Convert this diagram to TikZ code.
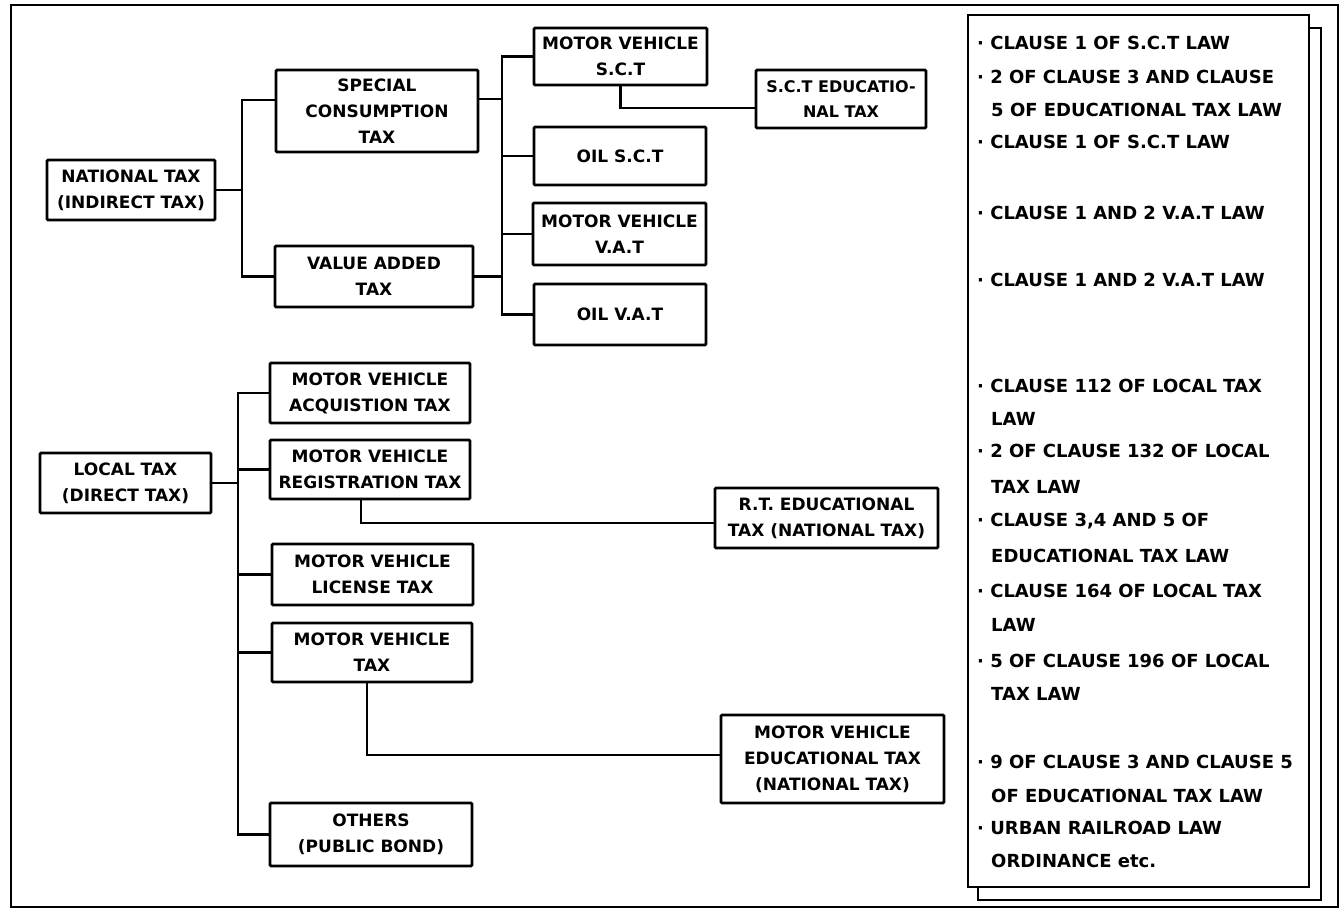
\documentclass[tikz,border=0pt]{standalone}
\usepackage{fontspec}
\newfontfamily\dvs{DejaVu Sans}
\begin{document}
\begin{tikzpicture}[x=1pt,y=-1pt,
  box/.style={draw, line width=2.8pt, rounded corners=1.2pt, align=center, inner sep=1pt,
    font=\dvs\bfseries\fontsize{17}{26}\selectfont},
  conn/.style={line width=2.6pt},
  frame/.style={line width=2.8pt},
  cl/.style={anchor=west, inner sep=0pt, font=\dvs\bfseries\fontsize{18}{22}\selectfont}]
\useasboundingbox (0,0) rectangle (1344,911);
\draw[frame] (11,5) rectangle (1338,907);

% ---- national tax branch
\node[box, minimum width=168pt, minimum height=60pt] (nat) at (131,190) {NATIONAL TAX\\(INDIRECT TAX)};
\node[box, minimum width=202pt, minimum height=82pt] (sct) at (377,111) {SPECIAL\\CONSUMPTION\\TAX};
\node[box, minimum width=198pt, minimum height=61pt] (vat) at (374,276.5) {VALUE ADDED\\TAX};
\node[box, minimum width=173pt, minimum height=57pt] (mvsct) at (620.5,56.5) {MOTOR VEHICLE\\S.C.T};
\node[box, minimum width=170pt, minimum height=58pt, font=\dvs\bfseries\fontsize{16}{25}\selectfont] (scted) at (841,99) {S.C.T EDUCATIO-\\NAL TAX};
\node[box, minimum width=172pt, minimum height=58pt] (oilsct) at (620,156) {OIL S.C.T};
\node[box, minimum width=173pt, minimum height=62pt] (mvvat) at (619.5,234) {MOTOR VEHICLE\\V.A.T};
\node[box, minimum width=172pt, minimum height=61pt] (oilvat) at (620,314.5) {OIL V.A.T};

\coordinate (j1) at (242,190);
\coordinate (j2) at (502,99);
\draw[conn] (nat.east) -- (j1);
\draw[conn] ([yshift=11pt]sct.west) -| (j1) |- (vat.west);
\draw[conn] ([yshift=12pt]sct.east) -- (j2);
\draw[conn] (vat.east) -- (vat.east -| j2);
\draw[conn] (mvsct.west) -| (j2) |- (oilvat.west);
\draw[conn] (oilsct.west) -- (oilsct.west -| j2);
\draw[conn] (mvvat.west) -- (mvvat.west -| j2);
\draw[conn] (mvsct.south) |- ([yshift=-9pt]scted.west);

% ---- local tax branch
\node[box, minimum width=171pt, minimum height=60pt] (local) at (125.5,483) {LOCAL TAX\\(DIRECT TAX)};
\node[box, minimum width=200pt, minimum height=60pt] (acq) at (370,393) {MOTOR VEHICLE\\ACQUISTION TAX};
\node[box, minimum width=200pt, minimum height=59pt] (reg) at (370,469.5) {MOTOR VEHICLE\\REGISTRATION TAX};
\node[box, minimum width=223pt, minimum height=60pt] (rted) at (826.5,518) {R.T. EDUCATIONAL\\TAX (NATIONAL TAX)};
\node[box, minimum width=201pt, minimum height=61pt] (lic) at (372.5,574.5) {MOTOR VEHICLE\\LICENSE TAX};
\node[box, minimum width=200pt, minimum height=59pt] (mvt) at (372,652.5) {MOTOR VEHICLE\\TAX};
\node[box, minimum width=223pt, minimum height=88pt] (mved) at (832.5,759) {MOTOR VEHICLE\\EDUCATIONAL TAX\\(NATIONAL TAX)};
\node[box, minimum width=202pt, minimum height=63pt] (oth) at (371,834.5) {OTHERS\\(PUBLIC BOND)};

\coordinate (j3) at (238,483);
\draw[conn] (local.east) -- (j3);
\draw[conn] (acq.west) -| (j3) |- (oth.west);
\draw[conn] (reg.west) -- (reg.west -| j3);
\draw[conn] (lic.west) -- (lic.west -| j3);
\draw[conn] (mvt.west) -- (mvt.west -| j3);
\draw[conn] ([xshift=-9pt]reg.south) |- ([yshift=-5pt]rted.west);
\draw[conn] ([xshift=-5pt]mvt.south) |- ([yshift=4pt]mved.west);

% ---- law panel
\draw[conn, fill=white] (978,28) rectangle (1321,900);
\draw[conn, fill=white] (968,15) rectangle (1309,887);
\node[cl] (l1) at (977,43) {· CLAUSE 1 OF S.C.T LAW};
\node[cl] (l2) at (977,77) {· 2 OF CLAUSE 3 AND CLAUSE};
\node[cl] (l3) at (991,110) {5 OF EDUCATIONAL TAX LAW};
\node[cl] (l4) at (977,142) {· CLAUSE 1 OF S.C.T LAW};
\node[cl] (l5) at (977,213) {· CLAUSE 1 AND 2 V.A.T LAW};
\node[cl] (l6) at (977,280) {· CLAUSE 1 AND 2 V.A.T LAW};
\node[cl] (l7) at (977,386) {· CLAUSE 112 OF LOCAL TAX};
\node[cl] (l8) at (991,419) {LAW};
\node[cl] (l9) at (977,451) {· 2 OF CLAUSE 132 OF LOCAL};
\node[cl] (l10) at (991,487) {TAX LAW};
\node[cl] (l11) at (977,521) {· CLAUSE 3,4 AND 5 OF};
\node[cl] (l12) at (991,556) {EDUCATIONAL TAX LAW};
\node[cl] (l13) at (977,591) {· CLAUSE 164 OF LOCAL TAX};
\node[cl] (l14) at (991,625) {LAW};
\node[cl] (l15) at (977,661) {· 5 OF CLAUSE 196 OF LOCAL};
\node[cl] (l16) at (991,694) {TAX LAW};
\node[cl] (l17) at (977,762) {· 9 OF CLAUSE 3 AND CLAUSE 5};
\node[cl] (l18) at (991,796) {OF EDUCATIONAL TAX LAW};
\node[cl] (l19) at (977,828) {· URBAN RAILROAD LAW};
\node[cl] (l20) at (991,861) {ORDINANCE etc.};
\end{tikzpicture}
\end{document}
